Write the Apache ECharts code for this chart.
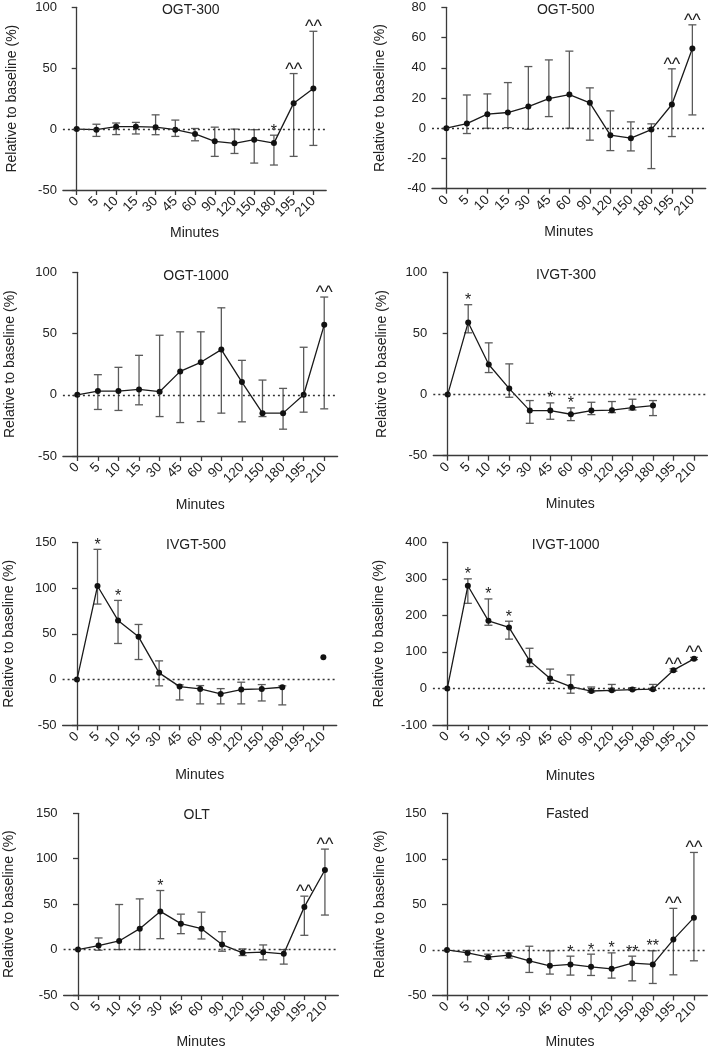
<!DOCTYPE html>
<html>
<head>
<meta charset="utf-8">
<script src="https://cdn.jsdelivr.net/npm/echarts@6/dist/echarts.min.js"></script>
<style>
  html, body { margin: 0; padding: 0; background: #fff; }
  #chart { width: 709px; height: 1050px; }
</style>
</head>
<body>
<div id="chart"></div>
<script>
// ---------- data ----------
const minutes = ['0', '5', '10', '15', '30', '45', '60', '90', '120', '150', '180', '195', '210'];
const panelTitles = ['OGT-300', 'OGT-500', 'OGT-1000', 'IVGT-300', 'IVGT-500', 'IVGT-1000', 'OLT', 'Fasted'];

const ogt300Mean  = [0, -0.5, 2, 2, 1.6, -0.5, -4, -10, -11.7, -8.7, -11.5, 21.3, 33.3];
const ogt300Lower = [null, -6, -4.5, -4, -4.6, -6, -9.6, -22.4, -20, -27.9, -29.5, -22.4, -13.4];
const ogt300Upper = [null, 4, 5, 5.5, 11.7, 7.4, 0.5, 1.6, 0, -0.5, -5, 45.6, 80.3];
const ogt300Marks = ['', '', '', '', '', '', '', '', '', '', '*', '^^', '^^'];
const ogt300Ticks = [-50, 0, 50, 100];

const ogt500Mean  = [0, 3.1, 9.3, 10.4, 14.3, 19.6, 22.3, 16.8, -4.6, -6.6, -0.9, 15.7, 52.7];
const ogt500Lower = [null, -3.5, 0, 0.4, -0.7, 7.7, 0, -7.9, -14.8, -15, -26.7, -5.5, 8.8];
const ogt500Upper = [null, 22, 22.7, 30.2, 40.8, 45.2, 51, 26.7, 11.5, 4.2, 2.9, 39.3, 68.4];
const ogt500Marks = ['', '', '', '', '', '', '', '', '', '', '', '^^', '^^'];
const ogt500Ticks = [-40, -20, 0, 20, 40, 60, 80];

const ogt1000Mean  = [0, 3, 3, 4.4, 2.5, 19.1, 26.5, 36.9, 10.4, -15, -15, 0, 57.1];
const ogt1000Lower = [null, -12, -12.8, -8.2, -17.8, -22.7, -21.9, -15, -22.1, -17.8, -28.1, -14.2, -11.5];
const ogt1000Upper = [null, 16.4, 22.4, 32.2, 48.6, 51.4, 51.4, 71, 28.1, 12, 5.2, 38.8, 79.8];
const ogt1000Marks = ['', '', '', '', '', '', '', '', '', '', '', '', '^^'];
const ogt1000Ticks = [-50, 0, 50, 100];

const ivgt300Mean  = [0, 59, 24.6, 4.9, -13.1, -13.1, -16.1, -13.1, -12.8, -10.7, -9, null, null];
const ivgt300Lower = [null, 50.5, 18, -2.2, -23.5, -20.2, -21.3, -16.4, -14.8, -12.6, -17.2, null, null];
const ivgt300Upper = [null, 73.5, 42.3, 25.1, -4.9, -6.8, -10.9, -6.3, -5.7, -3.8, -4.9, null, null];
const ivgt300Marks = ['', '*', '', '', '', '*', '*', '', '', '', '', '', ''];
const ivgt300Ticks = [-50, 0, 50, 100];

const ivgt500Mean  = [0, 102.2, 64.6, 46.7, 7.3, -7.7, -10.2, -15.7, -10.9, -10.2, -8.4, null, 24.5];
const ivgt500Lower = [null, 82.5, 39.4, 21.9, -6.9, -22.3, -26.6, -26.6, -26.6, -23.4, -27.7, null, null];
const ivgt500Upper = [null, 142.3, 86.5, 60.2, 20.4, -5.8, -6.6, -9.9, -2.9, -5.5, -6.9, null, null];
const ivgt500Marks = ['', '*', '*', '', '', '', '', '', '', '', '', '', ''];
const ivgt500Ticks = [-50, 0, 50, 100, 150];

const ivgt1000Mean  = [0, 281, 185, 167, 76, 27, 5, -7, -5, -3, -2, 50, 81];
const ivgt1000Lower = [null, 233, 173, 135, 60, 14, -13, -10, -7, -5, -5, 47, 79];
const ivgt1000Upper = [null, 300, 245, 184, 110, 53, 37, 4, 11, 2, 11, 54, 85];
const ivgt1000Marks = ['', '*', '*', '*', '', '', '', '', '', '', '', '^^', '^^'];
const ivgt1000Ticks = [-100, 0, 100, 200, 300, 400];

const oltMean  = [0, 4.4, 9.5, 23, 42, 28.5, 23, 5.5, -3.6, -2.9, -4.7, 47, 87.6];
const oltLower = [null, -0.7, 0, 0, 12, 17.5, 11.7, -1.8, -6.6, -11.3, -16, 15.7, 38];
const oltUpper = [null, 12.8, 49.6, 55.8, 65, 39, 41.2, 19.7, 0.7, 5.1, 0, 58.8, 110.6];
const oltMarks = ['', '', '', '', '*', '', '', '', '', '', '', '^^', '^^'];
const oltTicks = [-50, 0, 50, 100, 150];

const fastedMean  = [0, -3.3, -8, -5.8, -12, -17.5, -16, -18.6, -20.8, -14.6, -16, 11.3, 35.4];
const fastedLower = [null, -13.1, -10.2, -9.1, -24.8, -26.6, -27.7, -28.1, -31, -34, -36.9, -27.4, -12];
const fastedUpper = [null, -0.7, -4.7, -3.3, 4, -1.1, -6.9, -4.7, -3.3, -6.9, -1, 45.6, 107];
const fastedMarks = ['', '', '', '', '', '', '*', '*', '*', '**', '**', '^^', '^^'];
const fastedTicks = [-50, 0, 50, 100, 150];

const yAxisTitle = 'Relative to baseline (%)';
const xAxisTitle = 'Minutes';

// ---------- layout (positions / styles only) ----------
const layout = [
  {left: 62.9,  top: 7.3,   width: 263.3, height: 182.7, gapY: 44, gapX: 36,   tx: 190.7, ty: 10},
  {left: 432.0, top: 7.3,   width: 273.7, height: 181.4, gapY: 45, gapX: 36.6, tx: 565.7, ty: 10},
  {left: 62.9,  top: 272.3, width: 274.7, height: 183.7, gapY: 46, gapX: 42,   tx: 196,   ty: 275.7},
  {left: 433.3, top: 272.3, width: 274.1, height: 183.4, gapY: 44, gapX: 41,   tx: 566,   ty: 275},
  {left: 62.6,  top: 542.3, width: 274.1, height: 183.0, gapY: 46, gapX: 42.7, tx: 196,   ty: 545},
  {left: 432.9, top: 542.3, width: 274.5, height: 182.7, gapY: 47, gapX: 43.7, tx: 565.7, ty: 545},
  {left: 63.6,  top: 813.3, width: 274.7, height: 182.7, gapY: 47, gapX: 40,   tx: 196.7, ty: 815},
  {left: 432.6, top: 813.3, width: 274.7, height: 182.4, gapY: 45, gapX: 39.6, tx: 567.3, ty: 814}
];

const panels = [
  {mean: ogt300Mean, lower: ogt300Lower, upper: ogt300Upper, marks: ogt300Marks, ticks: ogt300Ticks},
  {mean: ogt500Mean, lower: ogt500Lower, upper: ogt500Upper, marks: ogt500Marks, ticks: ogt500Ticks},
  {mean: ogt1000Mean, lower: ogt1000Lower, upper: ogt1000Upper, marks: ogt1000Marks, ticks: ogt1000Ticks},
  {mean: ivgt300Mean, lower: ivgt300Lower, upper: ivgt300Upper, marks: ivgt300Marks, ticks: ivgt300Ticks},
  {mean: ivgt500Mean, lower: ivgt500Lower, upper: ivgt500Upper, marks: ivgt500Marks, ticks: ivgt500Ticks},
  {mean: ivgt1000Mean, lower: ivgt1000Lower, upper: ivgt1000Upper, marks: ivgt1000Marks, ticks: ivgt1000Ticks},
  {mean: oltMean, lower: oltLower, upper: oltUpper, marks: oltMarks, ticks: oltTicks},
  {mean: fastedMean, lower: fastedLower, upper: fastedUpper, marks: fastedMarks, ticks: fastedTicks}
];

const FONT = '"Liberation Sans", Arial, Helvetica, sans-serif';
const AXIS_COLOR = '#3a3a3a';
const TEXT_COLOR = '#222';
const catIdx = minutes.map((_, i) => i);

const grids = [], xAxes = [], yAxes = [], series = [], graphics = [];

panels.forEach((p, k) => {
  const L = layout[k];
  grids.push({left: L.left, top: L.top, width: L.width, height: L.height, containLabel: false});
  xAxes.push({
    type: 'value', gridIndex: k, min: -0.7, max: 12.65,
    name: xAxisTitle, nameLocation: 'middle', nameGap: L.gapX,
    nameTextStyle: {fontFamily: FONT, fontSize: 14, color: TEXT_COLOR},
    axisLine: {show: true, onZero: false, lineStyle: {color: AXIS_COLOR, width: 1.3}},
    axisTick: {show: true, customValues: catIdx, length: 5, lineStyle: {color: AXIS_COLOR, width: 1.3}},
    axisLabel: {show: true, customValues: catIdx, rotate: 45, margin: 9,
      fontFamily: FONT, fontSize: 13.5, color: TEXT_COLOR,
      formatter: v => minutes[Math.round(v)]},
    splitLine: {show: false}
  });
  const t = p.ticks;
  yAxes.push({
    type: 'value', gridIndex: k, min: t[0], max: t[t.length - 1], interval: t[1] - t[0],
    name: yAxisTitle, nameLocation: 'middle', nameGap: L.gapY, nameRotate: 90,
    nameTextStyle: {fontFamily: FONT, fontSize: 14, color: TEXT_COLOR},
    axisLine: {show: true, lineStyle: {color: AXIS_COLOR, width: 1.3}},
    axisTick: {show: true, length: 5, lineStyle: {color: AXIS_COLOR, width: 1.3}},
    axisLabel: {fontFamily: FONT, fontSize: 13, color: TEXT_COLOR, margin: 6},
    splitLine: {show: false}
  });

  // error bars
  const errData = [];
  p.mean.forEach((m, i) => {
    if (p.lower[i] != null && p.upper[i] != null) errData.push([i, p.lower[i], p.upper[i]]);
  });
  series.push({
    type: 'custom', xAxisIndex: k, yAxisIndex: k, z: 2, silent: true,
    encode: {x: 0, y: [1, 2]},
    data: errData,
    renderItem: (params, api) => {
      const i = api.value(0);
      const lo = api.coord([i, api.value(1)]);
      const hi = api.coord([i, api.value(2)]);
      const x = lo[0], cap = 4;
      const st = {stroke: '#5a5a5a', lineWidth: 1.3};
      return {type: 'group', children: [
        {type: 'line', shape: {x1: x, y1: hi[1], x2: x, y2: lo[1]}, style: st},
        {type: 'line', shape: {x1: x - cap, y1: hi[1], x2: x + cap, y2: hi[1]}, style: st},
        {type: 'line', shape: {x1: x - cap, y1: lo[1], x2: x + cap, y2: lo[1]}, style: st}
      ]};
    }
  });

  // mean line with points
  series.push({
    type: 'line', xAxisIndex: k, yAxisIndex: k, z: 3, silent: true,
    data: p.mean.map((m, i) => [i, m]),
    connectNulls: false,
    symbol: 'circle', symbolSize: 6, showSymbol: true,
    lineStyle: {color: '#1a1a1a', width: 1.3},
    itemStyle: {color: '#111'},
    animation: false,
    markLine: {
      silent: true, symbol: 'none', label: {show: false},
      lineStyle: {color: '#333', width: 1.3, type: [2, 3]},
      data: [{yAxis: 0}]
    }
  });

  // significance annotations
  const ann = [];
  p.marks.forEach((s, i) => {
    if (s) ann.push({i: i, y: p.upper[i] != null ? p.upper[i] : p.mean[i], text: s});
  });
  series.push({
    type: 'custom', xAxisIndex: k, yAxisIndex: k, z: 4, silent: true,
    encode: {x: 0, y: 1},
    data: ann.map(a => [a.i, a.y]),
    clip: false,
    renderItem: (params, api) => {
      const a = ann[params.dataIndex];
      const pt = api.coord([api.value(0), api.value(1)]);
      const isCaret = a.text.indexOf('^') >= 0;
      return {
        type: 'text', x: pt[0], y: pt[1] - (isCaret ? 4 : 4),
        style: {text: a.text, align: 'center', verticalAlign: 'middle',
          fontFamily: FONT, fontSize: isCaret ? 18 : 16, fill: TEXT_COLOR}
      };
    }
  });

  graphics.push({
    type: 'text', x: L.tx, y: L.ty,
    style: {text: panelTitles[k], align: 'center', verticalAlign: 'middle',
      fontFamily: FONT, fontSize: 14, fill: TEXT_COLOR}
  });
});

const chart = echarts.init(document.getElementById('chart'), null, {renderer: 'canvas'});
chart.setOption({
  animation: false,
  backgroundColor: '#fff',
  grid: grids,
  xAxis: xAxes,
  yAxis: yAxes,
  series: series,
  graphic: graphics
});
</script>
</body>
</html>
